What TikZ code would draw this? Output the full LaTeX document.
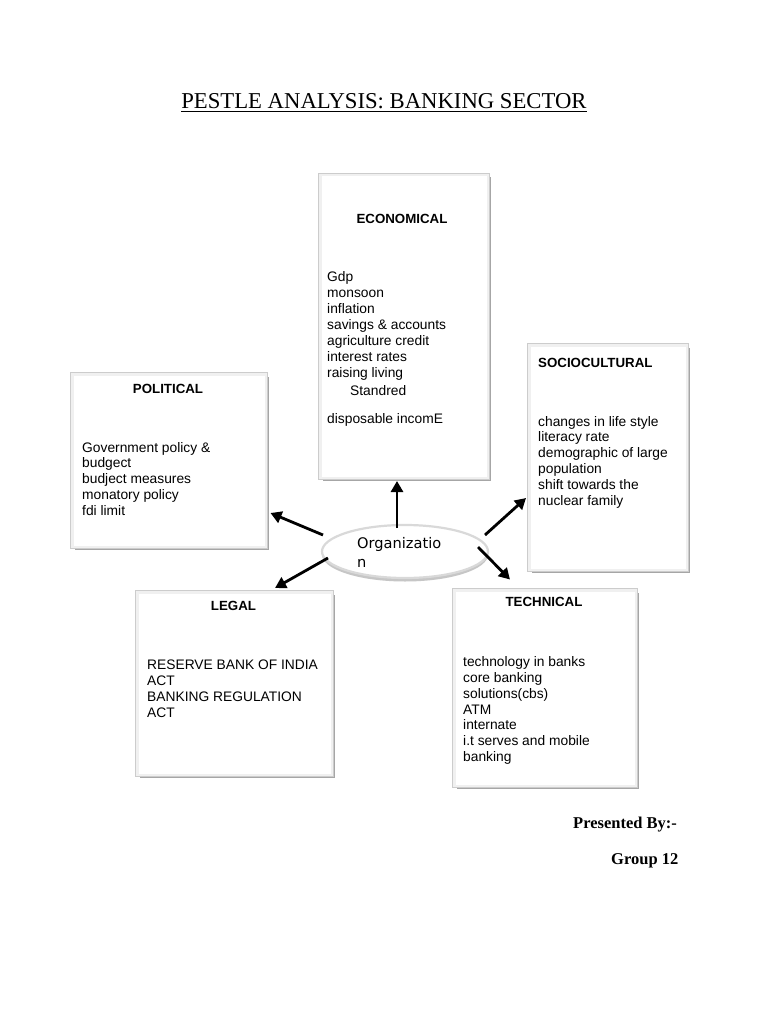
\documentclass[tikz,border=0pt]{standalone}
\usepackage{fontspec}
\setmainfont{Liberation Serif}
\newfontfamily\arialf{Liberation Sans}
\newfontfamily\dejavuf{DejaVu Sans}
\usetikzlibrary{shapes.geometric,arrows.meta}
\begin{document}
\begin{tikzpicture}[x=1pt,y=-1pt,
  shadowbox/.style={rectangle, fill=gray!70, draw=none, inner sep=0pt},
  panel/.style={rectangle, fill=white, draw=gray!12, line width=3pt, inner sep=0pt},
  edge/.style={draw=gray!40, line width=0.8pt},
  body/.style={font=\arialf\fontsize{13.8}{16}\selectfont, anchor=base west, inner sep=0pt, text=black},
  head/.style={font=\arialf\bfseries\fontsize{13.3}{16}\selectfont, anchor=base, inner sep=0pt, text=black},
  arr/.style={line width=2.8pt, -{Triangle[length=11pt,width=12pt]}},
  serifbold/.style={font=\bfseries\fontsize{16.5}{19}\selectfont, anchor=base west, inner sep=0pt},
]
\useasboundingbox (0,0) rectangle (768,1024);
\fill[white] (0,0) rectangle (768,1024);

% title
\node[font=\fontsize{22.7}{27}\selectfont, anchor=base, inner sep=0pt] (title) at (384,109) {\underline{PESTLE ANALYSIS: BANKING SECTOR}};

% ---------- boxes ----------
% Economical
\node[shadowbox, minimum width=168pt, minimum height=303pt] (econS) at (406.5,329) {};
\node[panel, minimum width=168pt, minimum height=303pt] (econ) at (404,326.5) {};
\draw[edge] (econ.north west) rectangle (econ.south east);
% Political
\node[shadowbox, minimum width=194pt, minimum height=173pt] (polS) at (171.5,463) {};
\node[panel, minimum width=194pt, minimum height=173pt] (pol) at (169,460.5) {};
\draw[edge] (pol.north west) rectangle (pol.south east);
% Sociocultural
\node[shadowbox, minimum width=158pt, minimum height=225pt] (socS) at (610.5,460) {};
\node[panel, minimum width=158pt, minimum height=225pt] (soc) at (608,457.5) {};
\draw[edge] (soc.north west) rectangle (soc.south east);
% Legal
\node[shadowbox, minimum width=195pt, minimum height=183pt] (legS) at (237,686) {};
\node[panel, minimum width=195pt, minimum height=183pt] (leg) at (234.5,683.5) {};
\draw[edge] (leg.north west) rectangle (leg.south east);
% Technical
\node[shadowbox, minimum width=182pt, minimum height=196pt] (tecS) at (547.5,690.5) {};
\node[panel, minimum width=182pt, minimum height=196pt] (tec) at (545,688) {};
\draw[edge] (tec.north west) rectangle (tec.south east);

% ---------- texts ----------
\node[head] (econT) at (402,223) {ECONOMICAL};
\foreach \t [count=\i from 0] in {Gdp, monsoon, inflation, savings \& accounts, agriculture credit, interest rates, raising living}
  \node[body] (econL\i) at (327,281+16*\i) {\t};
\node[body] (econL7) at (350,395) {Standred};
\node[body] (econL8) at (327,423) {disposable incomE};

\node[head] (polT) at (168,393) {POLITICAL};
\foreach \t [count=\i from 0] in {Government policy \&, budgect, budject measures, monatory policy, fdi limit}
  \node[body] (polL\i) at (82,452+15.9*\i) {\t};

\node[head, anchor=base west] (socT) at (538,367) {SOCIOCULTURAL};
\foreach \t [count=\i from 0] in {changes in life style, literacy rate, demographic of large, population, shift towards the, nuclear family}
  \node[body] (socL\i) at (538,426+15.9*\i) {\t};

\node[head] (legT) at (233.5,610) {LEGAL};
\foreach \t [count=\i from 0] in {RESERVE BANK OF INDIA, ACT, BANKING REGULATION, ACT}
  \node[body] (legL\i) at (147,669+16*\i) {\t};

\node[head] (tecT) at (544,606) {TECHNICAL};
\foreach \t [count=\i from 0] in {technology in banks, core banking, solutions(cbs), ATM, internate, i.t serves and mobile, banking}
  \node[body] (tecL\i) at (463,666.5+15.85*\i) {\t};

% ---------- centre ellipse ----------
\node[ellipse, fill=gray!45, minimum width=166pt, minimum height=54pt, inner sep=0pt] (orgS) at (405,554.5) {};
\node[ellipse, fill=white, draw=gray!30, line width=2.2pt, minimum width=166pt, minimum height=53pt, inner sep=0pt] (org) at (405,551.5) {};
\node[font=\dejavuf\fontsize{14.6}{19}\selectfont, anchor=base west, inner sep=0pt, text=black] (orgT1) at (357,548) {Organizatio};
\node[font=\dejavuf\fontsize{14.6}{19}\selectfont, anchor=base west, inner sep=0pt, text=black] (orgT2) at (357,567) {n};

% ---------- arrows ----------
\coordinate (aUp0) at (397,528);   \coordinate (aUp1) at (397,481);
\coordinate (aPol0) at (323,535);  \coordinate (aPol1) at (270.5,513);
\coordinate (aLeg0) at (328,558);  \coordinate (aLeg1) at (275,588);
\coordinate (aSoc0) at (485,535);  \coordinate (aSoc1) at (526,498);
\coordinate (aTec0) at (478,547);  \coordinate (aTec1) at (510,579.5);
\draw[arr] (aUp0) -- (aUp1);
\draw[arr] (aPol0) -- (aPol1);
\draw[arr] (aLeg0) -- (aLeg1);
\draw[arr] (aSoc0) -- (aSoc1);
\draw[arr] (aTec0) -- (aTec1);

% ---------- footer ----------
\node[serifbold] (pres) at (573,828) {Presented By:-};
\node[serifbold] (grp) at (611,864) {Group 12};
\end{tikzpicture}
\end{document}
